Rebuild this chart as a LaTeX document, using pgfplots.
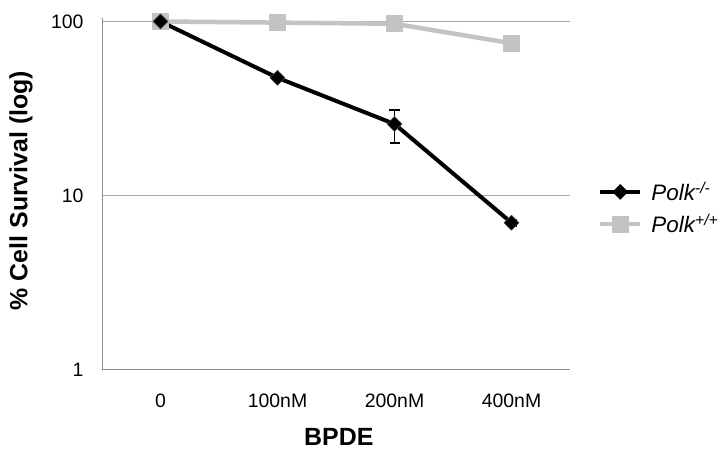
\documentclass[border=0pt]{standalone}
\usepackage{fontspec}
\setmainfont{Liberation Sans}
\usepackage{pgfplots}
\pgfplotsset{compat=1.18}
\definecolor{gridgray}{HTML}{A6A6A6}
\definecolor{axgray}{HTML}{8C8C8C}
\definecolor{sergray}{HTML}{C3C3C3}
\begin{document}
\begin{tikzpicture}
\useasboundingbox (0,0) rectangle (725bp,452bp);
\begin{axis}[
  at={(102bp,82bp)}, anchor=south west,
  width=468bp, height=352bp, scale only axis,
  ymode=log, ymin=1, ymax=104.7,
  xmin=-0.5, xmax=3.5,
  xtick={0,1,2,3}, xticklabels={0,100nM,200nM,400nM},
  ytick={1,10,100}, yticklabels={1,10,100},
  minor ytick={}, 
  major tick length=0pt, minor tick length=0pt,
  axis x line*=bottom, axis y line*=left,
  axis line style={draw=axgray, line width=1bp, -},
  ymajorgrids, grid style={draw=gridgray, line width=1bp},
  tick label style={font=\fontsize{19.5}{23}\selectfont},
  /pgf/number format/assume math mode=true,
  yticklabel style={xshift=-15bp},
  xticklabel style={yshift=-20bp},
  xlabel={\bfseries BPDE},
  ylabel={\bfseries \% Cell Survival (log)},
  label style={font=\fontsize{25}{30}\selectfont},
  xlabel style={at={(axis description cs:0.506,-0.19)}, anchor=center},
  ylabel style={at={(axis description cs:-0.173,0.51)}, anchor=center},
  clip=false,
  legend style={at={(1.053,0.46)}, anchor=west, draw=none, fill=none,
    font=\fontsize{22.5}{27}\selectfont\itshape, row sep=8bp,
    /tikz/every odd column/.append style={column sep=7bp}},
  legend cell align=left,
  legend image code/.code={\draw[mark repeat=2,mark phase=2,#1] plot coordinates {(0bp,0bp)(20bp,0bp)(40bp,0bp)};},
]
\addplot[forget plot, draw=sergray, line width=4.5bp, mark=square*, mark size=8bp, mark options={fill=sergray, draw=sergray, line width=0pt}]
  coordinates {(0,100) (1,98.5) (2,97) (3,75)};
\addplot[forget plot, draw=black, line width=4bp, mark=square*, mark size=5.3bp, mark options={rotate=45, fill=black, draw=black!70, line width=0.5bp},
  error bars/.cd, y dir=both, y explicit,
  error bar style={black, line width=1.5bp},
  error mark options={rotate=90, mark size=5bp, line width=1.5bp, black}]
  coordinates {(0,100) +- (0,0) (1,47.5) +- (0,1.5) (2,25.8) +=(0,5.2) -=(0,5.7) (3,7.0) +- (0,0.3)};
\addlegendimage{draw=black, line width=4bp, mark=square*, mark size=5.3bp, mark options={rotate=45, fill=black, draw=black, line width=0.5bp}}
\addlegendentry{Polk\textsuperscript{-/-}}
\addlegendimage{draw=sergray, line width=4.5bp, mark=square*, mark size=8bp, mark options={fill=sergray, draw=sergray, line width=0pt}}
\addlegendentry{Polk\textsuperscript{+/+}}
\end{axis}
\end{tikzpicture}
\end{document}
